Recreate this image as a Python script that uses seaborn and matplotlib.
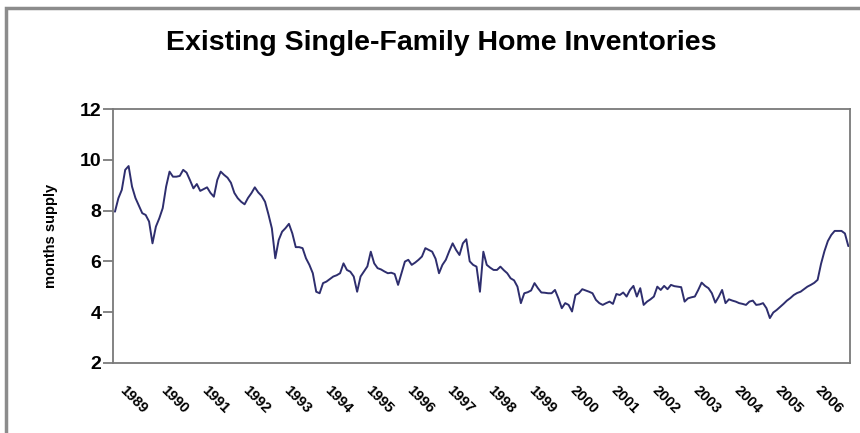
import numpy as np
import pandas as pd
import matplotlib
matplotlib.use('Agg')
import matplotlib.pyplot as plt
import seaborn as sns
from matplotlib.patches import Rectangle

# monthly months-supply readings, Jan 1989 .. Dec 2006 (one row per year)
months_supply = [
    7.96, 8.49, 8.82, 9.61, 9.76, 8.95, 8.50, 8.20, 7.90, 7.83, 7.57, 6.71,  # 1989
    7.37, 7.70, 8.10, 8.95, 9.54, 9.34, 9.34, 9.37, 9.61, 9.50, 9.20, 8.88,  # 1990
    9.05, 8.78, 8.85, 8.92, 8.70, 8.55, 9.21, 9.54, 9.41, 9.30, 9.10, 8.70,  # 1991
    8.49, 8.35, 8.25, 8.50, 8.69, 8.92, 8.72, 8.58, 8.35, 7.85, 7.30, 6.12,  # 1992
    6.84, 7.17, 7.31, 7.48, 7.10, 6.56, 6.56, 6.52, 6.12, 5.86, 5.53, 4.80,  # 1993
    4.74, 5.14, 5.20, 5.30, 5.40, 5.45, 5.53, 5.92, 5.66, 5.59, 5.40, 4.80,  # 1994
    5.40, 5.60, 5.80, 6.38, 5.92, 5.73, 5.68, 5.60, 5.53, 5.55, 5.50, 5.07,  # 1995
    5.53, 5.99, 6.06, 5.86, 5.95, 6.06, 6.19, 6.52, 6.45, 6.38, 6.10, 5.53,  # 1996
    5.86, 6.06, 6.40, 6.71, 6.45, 6.25, 6.71, 6.87, 6.00, 5.86, 5.79, 4.80,  # 1997
    6.38, 5.86, 5.75, 5.66, 5.66, 5.79, 5.65, 5.53, 5.33, 5.25, 5.00, 4.35,  # 1998
    4.74, 4.78, 4.85, 5.14, 4.94, 4.77, 4.76, 4.74, 4.74, 4.87, 4.54, 4.15,  # 1999
    4.35, 4.28, 4.02, 4.67, 4.74, 4.90, 4.85, 4.80, 4.74, 4.48, 4.35, 4.28,  # 2000
    4.35, 4.41, 4.32, 4.71, 4.67, 4.77, 4.61, 4.87, 5.03, 4.61, 4.94, 4.28,  # 2001
    4.41, 4.50, 4.61, 5.00, 4.87, 5.03, 4.90, 5.07, 5.02, 5.00, 4.98, 4.41,  # 2002
    4.54, 4.58, 4.61, 4.87, 5.16, 5.03, 4.94, 4.74, 4.37, 4.60, 4.87, 4.35,  # 2003
    4.50, 4.45, 4.41, 4.35, 4.32, 4.28, 4.41, 4.45, 4.28, 4.30, 4.35, 4.15,  # 2004
    3.76, 3.98, 4.08, 4.20, 4.32, 4.45, 4.55, 4.67, 4.75, 4.80, 4.90, 5.00,  # 2005
    5.07, 5.15, 5.27, 5.90, 6.40, 6.80, 7.04, 7.20, 7.20, 7.20, 7.10, 6.60,  # 2006
]
tick_years = list(range(1989, 2007))
y_ticks = [2, 4, 6, 8, 10, 12]

df = pd.DataFrame({'month': np.arange(len(months_supply)), 'supply': months_supply})

sns.set_style('white')
plt.rcParams['font.family'] = ['Liberation Sans', 'DejaVu Sans']
plt.rcParams['text.color'] = 'black'
plt.rcParams['xtick.color'] = 'black'
plt.rcParams['ytick.color'] = 'black'
plt.rcParams['axes.labelcolor'] = 'black'

fig = plt.figure(figsize=(8.6, 4.33), dpi=100)
ax = fig.add_axes([0.1317, 0.1624, 0.8567, 0.5852])

sns.lineplot(data=df, x='month', y='supply', ax=ax, color='#2e2e6e', linewidth=1.4)

ax.set_xlim(-0.5, len(months_supply) - 0.5)
ax.set_ylim(2, 12)
ax.set_yticks(y_ticks)
ax.set_yticklabels([str(v) for v in y_ticks], fontsize=14, fontweight='bold')
ax.set_xticks([12 * i + 3.5 for i in range(len(tick_years))])
ax.set_xticklabels([str(y) for y in tick_years], fontsize=10.5, fontweight='bold',
                   rotation=-45, ha='left', va='top', rotation_mode='anchor')
ax.tick_params(axis='x', length=0, pad=15)
ax.tick_params(axis='y', left=True, length=7, width=1.2, color='#707070', pad=1.5)
ax.set_xlabel('')
ax.set_ylabel('months supply', fontsize=10.5, fontweight='bold', labelpad=16)
for s in ax.spines.values():
    s.set_color('#7a7a7a')
    s.set_linewidth(1.3)

fig.text(441 / 860, 1 - 43 / 433, 'Existing Single-Family Home Inventories',
         ha='center', va='center', fontsize=20.5, fontweight='bold')

# chart area border (only top and left edges fall inside the image)
fig.patches.append(Rectangle((6 / 860, -0.1), 1.2, 1 - 8 / 433 + 0.1,
                             transform=fig.transFigure, fill=False,
                             edgecolor='#8c8c8c', linewidth=2.5))

plt.savefig('out.png', dpi=100)
